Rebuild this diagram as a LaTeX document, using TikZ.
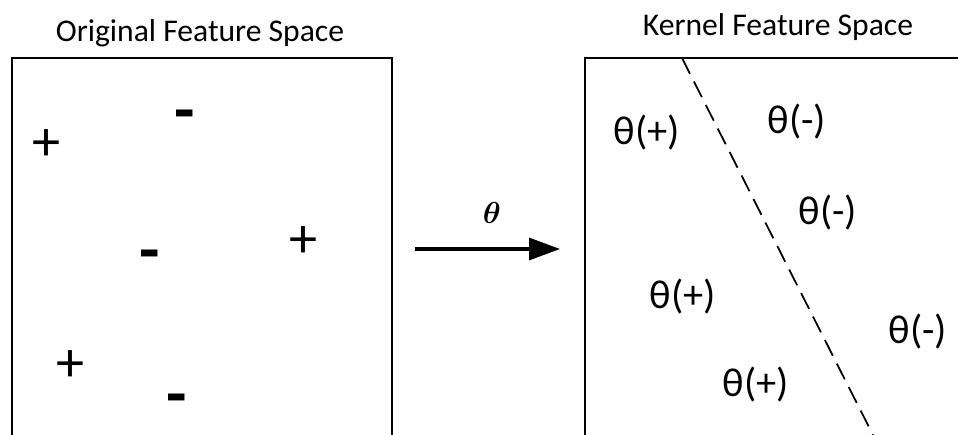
\documentclass[tikz,border=0pt]{standalone}
\usepackage{fontspec}
\setmainfont{Carlito}
\usepackage{bm}
\usetikzlibrary{arrows.meta}

\begin{document}
\begin{tikzpicture}[x=0.02cm,y=-0.02cm,
    title/.style={font=\fontsize{18}{22}\selectfont},
    plus/.style={font=\fontsize{32}{36}\selectfont, inner sep=0pt},
    minus/.style={font=\fontsize{38}{42}\selectfont\bfseries, inner sep=0pt},
    img/.style={font=\fontsize{23}{27}\selectfont, inner sep=0pt}]
      \useasboundingbox (0,0) rectangle (958,435);
      % the two spaces
      \draw[line width=1pt] (12,435) -- (12,58) -- (392,58) -- (392,435);
      \draw[line width=1pt] (958,58) -- (585,58) -- (585,435);
      \node[title] (Orig) at (200,33) {Original Feature Space};
      \node[title] (Kern) at (778,27) {Kernel Feature Space};
      % points before the map
      \node[minus] (m1) at (185,121) {-};
      \node[plus] (p1) at (47,145) {+};
      \node[minus] (m2) at (150,261) {-};
      \node[plus] (p2) at (303,242) {+};
      \node[plus] (p3) at (71,366) {+};
      \node[minus] (m3) at (177,405) {-};
      % the map
      \coordinate (A) at (415,249);
      \coordinate (B) at (560,249);
      \draw[line width=1.9pt, -{Triangle[length=0.62cm,width=0.44cm]}] (A) -- (B);
      \node[font=\fontsize{19}{23}\selectfont] (map) at (492,213) {$\bm{\theta}$};
      % points after the map
      \node[img] (q1) at (647,133) {θ(+)};
      \node[img] (q2) at (797,122) {θ(-)};
      \node[img] (q3) at (828,213) {θ(-)};
      \node[img] (q4) at (683,297) {θ(+)};
      \node[img] (q5) at (918,332) {θ(-)};
      \node[img] (q6) at (756,385) {θ(+)};
      \coordinate (S1) at (682,58);
      \coordinate (S2) at (873,435);
      \draw[line width=1pt, dash pattern=on 10pt off 5pt] (S1) -- (S2);
    \end{tikzpicture}
\end{document}
